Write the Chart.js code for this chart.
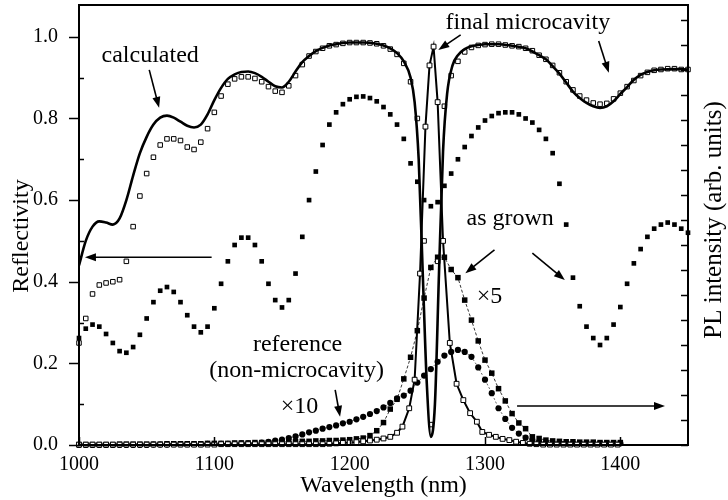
<!DOCTYPE html>
<html>
<head>
<meta charset="utf-8">
<script src="https://cdn.jsdelivr.net/npm/chart.js@4.4.1/dist/chart.umd.min.js"></script>
<style>
  html, body { margin: 0; padding: 0; background: #fff; }
  #wrap { width: 728px; height: 500px; }
</style>
</head>
<body>
<div id="wrap"><canvas id="grafico" width="728" height="500"></canvas></div>
<script>
// axis tick values
const xTicks = [1000, 1100, 1200, 1300, 1400];

// reflectivity wavelength grid (nm)
const wlRefl = [
  1000, 1005, 1010, 1015, 1020, 1025, 1030, 1035, 1040, 1045,
  1050, 1055, 1060, 1065, 1070, 1075, 1080, 1085, 1090, 1095,
  1100, 1105, 1110, 1115, 1120, 1125, 1130, 1135, 1140, 1145,
  1150, 1155, 1160, 1165, 1170, 1175, 1180, 1185, 1190, 1195,
  1200, 1205, 1210, 1215, 1220, 1225, 1230, 1235, 1240, 1245,
  1250, 1255, 1260, 1265, 1270, 1275, 1280, 1285, 1290, 1295,
  1300, 1305, 1310, 1315, 1320, 1325, 1330, 1335, 1340, 1345,
  1350, 1355, 1360, 1365, 1370, 1375, 1380, 1385, 1390, 1395,
  1400, 1405, 1410, 1415, 1420, 1425, 1430, 1435, 1440, 1445, 1450
];
// final microcavity, measured (open squares)
const reflFinal = [
  0.25, 0.31, 0.37, 0.392, 0.397, 0.40, 0.405, 0.45, 0.535, 0.61,
  0.665, 0.705, 0.735, 0.75, 0.75, 0.746, 0.73, 0.724, 0.742, 0.775,
  0.815, 0.855, 0.884, 0.897, 0.902, 0.902, 0.898, 0.89, 0.878, 0.867,
  0.864, 0.88, 0.905, 0.932, 0.953, 0.964, 0.972, 0.978, 0.981, 0.984,
  0.986, 0.986, 0.986, 0.985, 0.983, 0.978, 0.97, 0.957, 0.935, 0.89,
  0.8, 0.5, 0.05, 0.45, 0.83, 0.905, 0.94, 0.963, 0.974, 0.979,
  0.981, 0.982, 0.982, 0.98, 0.978, 0.976, 0.972, 0.966, 0.955, 0.945,
  0.93, 0.912, 0.89, 0.87, 0.855, 0.845, 0.838, 0.835, 0.837, 0.848,
  0.862, 0.878, 0.893, 0.905, 0.913, 0.918, 0.92, 0.922, 0.922, 0.92, 0.92
];
// as grown, measured (filled squares)
const reflGrown = [
  0.262, 0.285, 0.295, 0.29, 0.272, 0.25, 0.23, 0.226, 0.24, 0.27,
  0.31, 0.35, 0.378, 0.387, 0.375, 0.35, 0.318, 0.29, 0.276, 0.29,
  0.335, 0.395, 0.45, 0.49, 0.508, 0.508, 0.49, 0.45, 0.395, 0.355,
  0.337, 0.355, 0.42, 0.51, 0.6, 0.67, 0.735, 0.785, 0.815, 0.835,
  0.847, 0.853, 0.854, 0.85, 0.842, 0.828, 0.81, 0.785, 0.75, 0.69,
  0.645, 0.6, 0.585, 0.595, 0.635, 0.665, 0.7, 0.73, 0.757, 0.778,
  0.795, 0.806, 0.813, 0.815, 0.815, 0.81, 0.8, 0.79, 0.772, 0.75,
  0.715, 0.64, 0.54, 0.41, 0.34, 0.29, 0.262, 0.245, 0.262, 0.295,
  0.338, 0.395, 0.445, 0.48, 0.51, 0.53, 0.54, 0.545, 0.54, 0.53, 0.52
];
// calculated reflectivity (solid line)
const calcWl = [
  1000, 1005, 1010, 1015, 1020, 1025, 1030, 1035, 1040, 1045,
  1050, 1055, 1060, 1065, 1070, 1075, 1080, 1085, 1090, 1095,
  1100, 1105, 1110, 1115, 1120, 1125, 1130, 1135, 1140, 1145,
  1150, 1155, 1160, 1165, 1170, 1175, 1180, 1185, 1190, 1195,
  1200, 1210, 1220, 1225, 1230, 1235, 1240, 1245, 1248, 1251,
  1254, 1257, 1260, 1263, 1266, 1269, 1272, 1276, 1280, 1285,
  1290, 1295, 1300, 1310, 1320, 1330, 1340, 1345, 1350, 1355,
  1360, 1365, 1370, 1375, 1380, 1385, 1390, 1395, 1400, 1405,
  1410, 1415, 1420, 1425, 1430, 1440, 1450
];
const calcRefl = [
  0.44, 0.5, 0.535, 0.548, 0.545, 0.54, 0.555, 0.6, 0.66, 0.715,
  0.755, 0.785, 0.802, 0.807, 0.802, 0.792, 0.782, 0.778, 0.785, 0.81,
  0.845, 0.875, 0.897, 0.908, 0.914, 0.915, 0.911, 0.902, 0.89, 0.879,
  0.876, 0.89, 0.915, 0.938, 0.953, 0.965, 0.973, 0.979, 0.982, 0.985,
  0.986, 0.986, 0.983, 0.979, 0.972, 0.96, 0.94, 0.9, 0.84, 0.7,
  0.42, 0.15, 0.02, 0.1, 0.42, 0.72, 0.86, 0.93, 0.955, 0.97,
  0.977, 0.98, 0.982, 0.982, 0.978, 0.972, 0.955, 0.945, 0.928, 0.91,
  0.888, 0.866, 0.85, 0.838, 0.83, 0.826, 0.83, 0.842, 0.86, 0.877,
  0.895, 0.907, 0.914, 0.918, 0.92, 0.921, 0.92
];

// PL wavelength grid (nm)
const wlPL = [
  1000, 1005, 1010, 1015, 1020, 1025, 1030, 1035, 1040, 1045,
  1050, 1055, 1060, 1065, 1070, 1075, 1080, 1085, 1090, 1095,
  1100, 1105, 1110, 1115, 1120, 1125, 1130, 1135, 1140, 1145,
  1150, 1155, 1160, 1165, 1170, 1175, 1180, 1185, 1190, 1195,
  1200, 1205, 1210, 1215, 1220, 1225, 1230, 1235, 1240, 1245,
  1250, 1255, 1260, 1265, 1270, 1275, 1280, 1285, 1290, 1295,
  1300, 1305, 1310, 1315, 1320, 1325, 1330, 1335, 1340, 1345,
  1350, 1355, 1360, 1365, 1370, 1375, 1380, 1385, 1390, 1395, 1400
];
// reference (non-microcavity) PL x10, filled circles
const plRef = [
  0, 0, 0, 0, 0, 0, 0, 0, 0, 0,
  0, 0.001, 0.001, 0.001, 0.002, 0.002, 0.002, 0.002, 0.002, 0.003,
  0.003, 0.003, 0.003, 0.003, 0.004, 0.004, 0.004, 0.006, 0.008, 0.011,
  0.013, 0.017, 0.021, 0.026, 0.031, 0.035, 0.04, 0.044, 0.048, 0.053,
  0.057, 0.063, 0.069, 0.076, 0.083, 0.092, 0.103, 0.114, 0.121, 0.133,
  0.153, 0.17, 0.186, 0.204, 0.219, 0.228, 0.233, 0.228, 0.216, 0.19,
  0.16, 0.127, 0.09, 0.064, 0.042, 0.028, 0.018, 0.012, 0.008, 0.006,
  0.005, 0.005, 0.004, 0.004, 0.004, 0.004, 0.004, 0.004, 0.004, 0.004, 0.004
];
// as grown PL x5, filled squares
const plGrown = [
  0.001, 0.001, 0.001, 0.001, 0.001, 0.001, 0.002, 0.002, 0.002, 0.002,
  0.002, 0.002, 0.002, 0.003, 0.003, 0.003, 0.003, 0.003, 0.003, 0.004,
  0.004, 0.004, 0.004, 0.005, 0.005, 0.005, 0.006, 0.006, 0.006, 0.007,
  0.007, 0.008, 0.008, 0.009, 0.009, 0.01, 0.01, 0.011, 0.011, 0.012,
  0.013, 0.015, 0.017, 0.023, 0.035, 0.055, 0.088, 0.112, 0.162, 0.215,
  0.28, 0.36, 0.435, 0.46, 0.46, 0.43, 0.41, 0.355, 0.306, 0.255,
  0.208, 0.176, 0.138, 0.108, 0.077, 0.054, 0.04, 0.02, 0.016, 0.012,
  0.01, 0.009, 0.008, 0.008, 0.007, 0.007, 0.007, 0.006, 0.006, 0.006, 0.006
];
// final microcavity PL, open squares with solid line
const plFinalWl = [
  1000, 1005, 1010, 1015, 1020, 1025, 1030, 1035, 1040, 1045,
  1050, 1055, 1060, 1065, 1070, 1075, 1080, 1085, 1090, 1095,
  1100, 1105, 1110, 1115, 1120, 1125, 1130, 1135, 1140, 1145,
  1150, 1155, 1160, 1165, 1170, 1175, 1180, 1185, 1190, 1195,
  1200, 1205, 1210, 1215, 1220, 1225, 1230, 1235, 1239, 1244,
  1248, 1252, 1256, 1259, 1262, 1265, 1269, 1274, 1279, 1284,
  1289, 1294, 1298, 1303, 1308, 1313, 1318, 1323, 1328, 1333,
  1338, 1343, 1348, 1353, 1358, 1363, 1368, 1373, 1378, 1383,
  1388, 1393, 1398
];
const plFinal = [
  0.001, 0.001, 0.001, 0.001, 0.001, 0.001, 0.001, 0.001, 0.001, 0.001,
  0.001, 0.001, 0.001, 0.001, 0.001, 0.001, 0.001, 0.001, 0.001, 0.001,
  0.001, 0.002, 0.002, 0.002, 0.002, 0.002, 0.002, 0.002, 0.002, 0.002,
  0.002, 0.002, 0.002, 0.002, 0.002, 0.002, 0.002, 0.003, 0.004, 0.005,
  0.006, 0.007, 0.009, 0.011, 0.013, 0.016, 0.02, 0.03, 0.045, 0.09,
  0.16, 0.42, 0.78, 0.93, 0.976, 0.84, 0.5, 0.25, 0.15, 0.11,
  0.078, 0.057, 0.032, 0.025, 0.02, 0.015, 0.012, 0.008, 0.005, 0.003,
  0.002, 0.001, 0.001, 0.001, 0.001, 0.001, 0.001, 0.001, 0.001, 0.001,
  0.001, 0.001, 0.001
];

// text labels and arrows, in data units (nm, reflectivity)
const notes = [
  { text: 'calculated', x: 1052.6, y: 0.938 },
  { text: 'final microcavity', x: 1331.7, y: 1.019 },
  { text: 'as grown', x: 1318.6, y: 0.539 },
  { text: '\u00d75', x: 1303.3, y: 0.348 },
  { text: 'reference', x: 1161.5, y: 0.230 },
  { text: '(non-microcavity)', x: 1160.8, y: 0.167 },
  { text: '\u00d710', x: 1163, y: 0.078 }
];
const arrows = [
  [1051.9, 0.919, 1059.2, 0.826],
  [1282, 1.005, 1265.5, 0.968],
  [1384, 0.99, 1391.5, 0.912],
  [1307, 0.478, 1285.5, 0.421],
  [1335, 0.47, 1359, 0.404],
  [1189.3, 0.135, 1192.9, 0.069],
  [1098, 0.46, 1004.4, 0.46],
  [1323.7, 0.0955, 1433, 0.0955]
];

const serif = '"Liberation Serif", "Times New Roman", serif';

function pts(xs, ys) {
  return xs.map((w, i) => ({ x: w, y: ys[i] }));
}

function seta(ctx, x1, y1, x2, y2) {
  const ang = Math.atan2(y2 - y1, x2 - x1);
  const len = 11, half = 4;
  ctx.beginPath();
  ctx.moveTo(x1, y1);
  ctx.lineTo(x2 - Math.cos(ang) * (len - 1), y2 - Math.sin(ang) * (len - 1));
  ctx.stroke();
  ctx.beginPath();
  ctx.moveTo(x2, y2);
  ctx.lineTo(x2 - Math.cos(ang) * len - Math.sin(ang) * half, y2 - Math.sin(ang) * len + Math.cos(ang) * half);
  ctx.lineTo(x2 - Math.cos(ang) * len + Math.sin(ang) * half, y2 - Math.sin(ang) * len - Math.cos(ang) * half);
  ctx.closePath();
  ctx.fill();
}

function semPadding(s) {
  s.paddingTop = 0;
  s.paddingBottom = 0;
  s.paddingLeft = 0;
  s.paddingRight = 0;
}

const enfeites = {
  id: 'enfeites',
  afterDraw(chart) {
    const ctx = chart.ctx;
    const a = chart.chartArea;
    const sx = chart.scales.x, sy = chart.scales.y, sy2 = chart.scales.y2;
    ctx.save();
    ctx.strokeStyle = '#000';
    ctx.fillStyle = '#000';

    // frame
    ctx.lineWidth = 2;
    ctx.strokeRect(a.left, a.top, a.right - a.left, a.bottom - a.top);

    // left ticks: labelled ones outside, the others inside
    ctx.lineWidth = 1.5;
    sy.ticks.forEach(t => {
      const k = Math.round(t.value * 10);
      if (Math.abs(t.value * 10 - k) > 1e-6) return;
      const py = Math.round(sy.getPixelForValue(t.value)) + 0.5;
      ctx.beginPath();
      if (k % 2 === 0) { ctx.moveTo(a.left - 10, py); ctx.lineTo(a.left, py); }
      else { ctx.moveTo(a.left, py); ctx.lineTo(a.left + 5, py); }
      ctx.stroke();
    });
    // bottom ticks inside
    sx.ticks.forEach(t => {
      const px = Math.round(sx.getPixelForValue(t.value)) + 0.5;
      ctx.beginPath();
      ctx.moveTo(px, a.bottom);
      ctx.lineTo(px, a.bottom - 8);
      ctx.stroke();
    });
    // right ticks inside
    sy2.ticks.forEach(t => {
      const py = Math.round(sy2.getPixelForValue(t.value)) + 0.5;
      if (py < a.top + 3) return;
      ctx.beginPath();
      ctx.moveTo(a.right, py);
      ctx.lineTo(a.right - 7, py);
      ctx.stroke();
    });

    // axis titles
    ctx.font = '24px ' + serif;
    ctx.textAlign = 'center';
    ctx.textBaseline = 'alphabetic';
    ctx.fillText('Wavelength (nm)', (a.left + a.right) / 2, 492);
    ctx.save();
    ctx.translate(28, 236);
    ctx.rotate(-Math.PI / 2);
    ctx.fillText('Reflectivity', 0, 0);
    ctx.restore();
    ctx.save();
    ctx.translate(721, 220);
    ctx.rotate(-Math.PI / 2);
    ctx.font = '25px ' + serif;
    ctx.fillText('PL intensity (arb. units)', 0, 0);
    ctx.restore();

    // labels
    notes.forEach(n => {
      ctx.fillText(n.text, sx.getPixelForValue(n.x), sy.getPixelForValue(n.y));
    });
    // arrows
    ctx.lineWidth = 1.6;
    arrows.forEach(r => {
      seta(ctx, sx.getPixelForValue(r[0]), sy.getPixelForValue(r[1]),
        sx.getPixelForValue(r[2]), sy.getPixelForValue(r[3]));
    });
    ctx.restore();
  }
};

const ctx = document.getElementById('grafico').getContext('2d');
new Chart(ctx, {
  type: 'line',
  data: {
    datasets: [
      {
        label: 'calculated',
        data: pts(calcWl, calcRefl),
        yAxisID: 'y',
        borderColor: '#000',
        borderWidth: 2.6,
        pointRadius: 0,
        cubicInterpolationMode: 'monotone',
        order: 1
      },
      {
        label: 'final microcavity PL',
        data: pts(plFinalWl, plFinal),
        yAxisID: 'y2',
        borderColor: '#000',
        borderWidth: 2,
        tension: 0,
        pointStyle: 'rect',
        pointRadius: 3.4,
        pointBackgroundColor: '#fff',
        pointBorderColor: '#000',
        pointBorderWidth: 1,
        clip: false,
        order: 2
      },
      {
        label: 'final microcavity',
        data: pts(wlRefl, reflFinal),
        yAxisID: 'y',
        showLine: false,
        pointStyle: 'rect',
        pointRadius: 3.2,
        pointBackgroundColor: '#fff',
        pointBorderColor: '#000',
        pointBorderWidth: 1,
        clip: false,
        order: 3
      },
      {
        label: 'as grown',
        data: pts(wlRefl, reflGrown),
        yAxisID: 'y',
        showLine: false,
        pointStyle: 'rect',
        pointRadius: 3.3,
        pointBackgroundColor: '#000',
        pointBorderColor: '#000',
        pointBorderWidth: 0,
        clip: false,
        order: 4
      },
      {
        label: 'as grown PL x5',
        data: pts(wlPL, plGrown),
        yAxisID: 'y2',
        borderColor: '#000',
        borderWidth: 0.8,
        borderDash: [3, 2],
        tension: 0,
        pointStyle: 'rect',
        pointRadius: 3.9,
        pointBackgroundColor: '#000',
        pointBorderColor: '#000',
        pointBorderWidth: 0,
        clip: false,
        order: 5
      },
      {
        label: 'reference PL x10',
        data: pts(wlPL, plRef),
        yAxisID: 'y2',
        borderColor: '#000',
        borderWidth: 0.6,
        borderDash: [2, 2],
        tension: 0,
        pointStyle: 'circle',
        pointRadius: 3.1,
        pointBackgroundColor: '#000',
        pointBorderColor: '#000',
        pointBorderWidth: 0,
        clip: false,
        order: 6
      }
    ]
  },
  options: {
    responsive: false,
    devicePixelRatio: 1,
    animation: false,
    layout: { padding: { top: 5, left: 0, right: 0, bottom: 0 } },
    plugins: {
      legend: { display: false },
      tooltip: { enabled: false }
    },
    scales: {
      x: {
        type: 'linear',
        min: 1000,
        max: 1450,
        grid: { display: false },
        border: { display: false },
        afterBuildTicks: s => { s.ticks = xTicks.map(v => ({ value: v })); },
        ticks: {
          padding: 0,
          autoSkip: false,
          color: '#000',
          font: { family: serif, size: 20 },
          maxRotation: 0,
          callback: v => String(v)
        },
        afterFit: s => { s.height = 55; semPadding(s); }
      },
      y: {
        position: 'left',
        min: 0,
        max: 1.078,
        grid: { display: false },
        border: { display: false },
        ticks: {
          stepSize: 0.1,
          padding: 13,
          autoSkip: false,
          color: '#000',
          font: { family: serif, size: 20 },
          callback: v => {
            const k = Math.round(v * 10);
            if (Math.abs(v * 10 - k) > 1e-6 || k % 2 !== 0) return '';
            return (k / 10).toFixed(1);
          }
        },
        afterFit: s => { s.width = 79; semPadding(s); }
      },
      y2: {
        position: 'right',
        min: 0,
        max: 1.078,
        grid: { display: false },
        border: { display: false },
        ticks: { display: false, stepSize: 0.0613, autoSkip: false },
        afterFit: s => { s.width = 40; semPadding(s); }
      }
    }
  },
  plugins: [enfeites]
});
</script>
</body>
</html>
